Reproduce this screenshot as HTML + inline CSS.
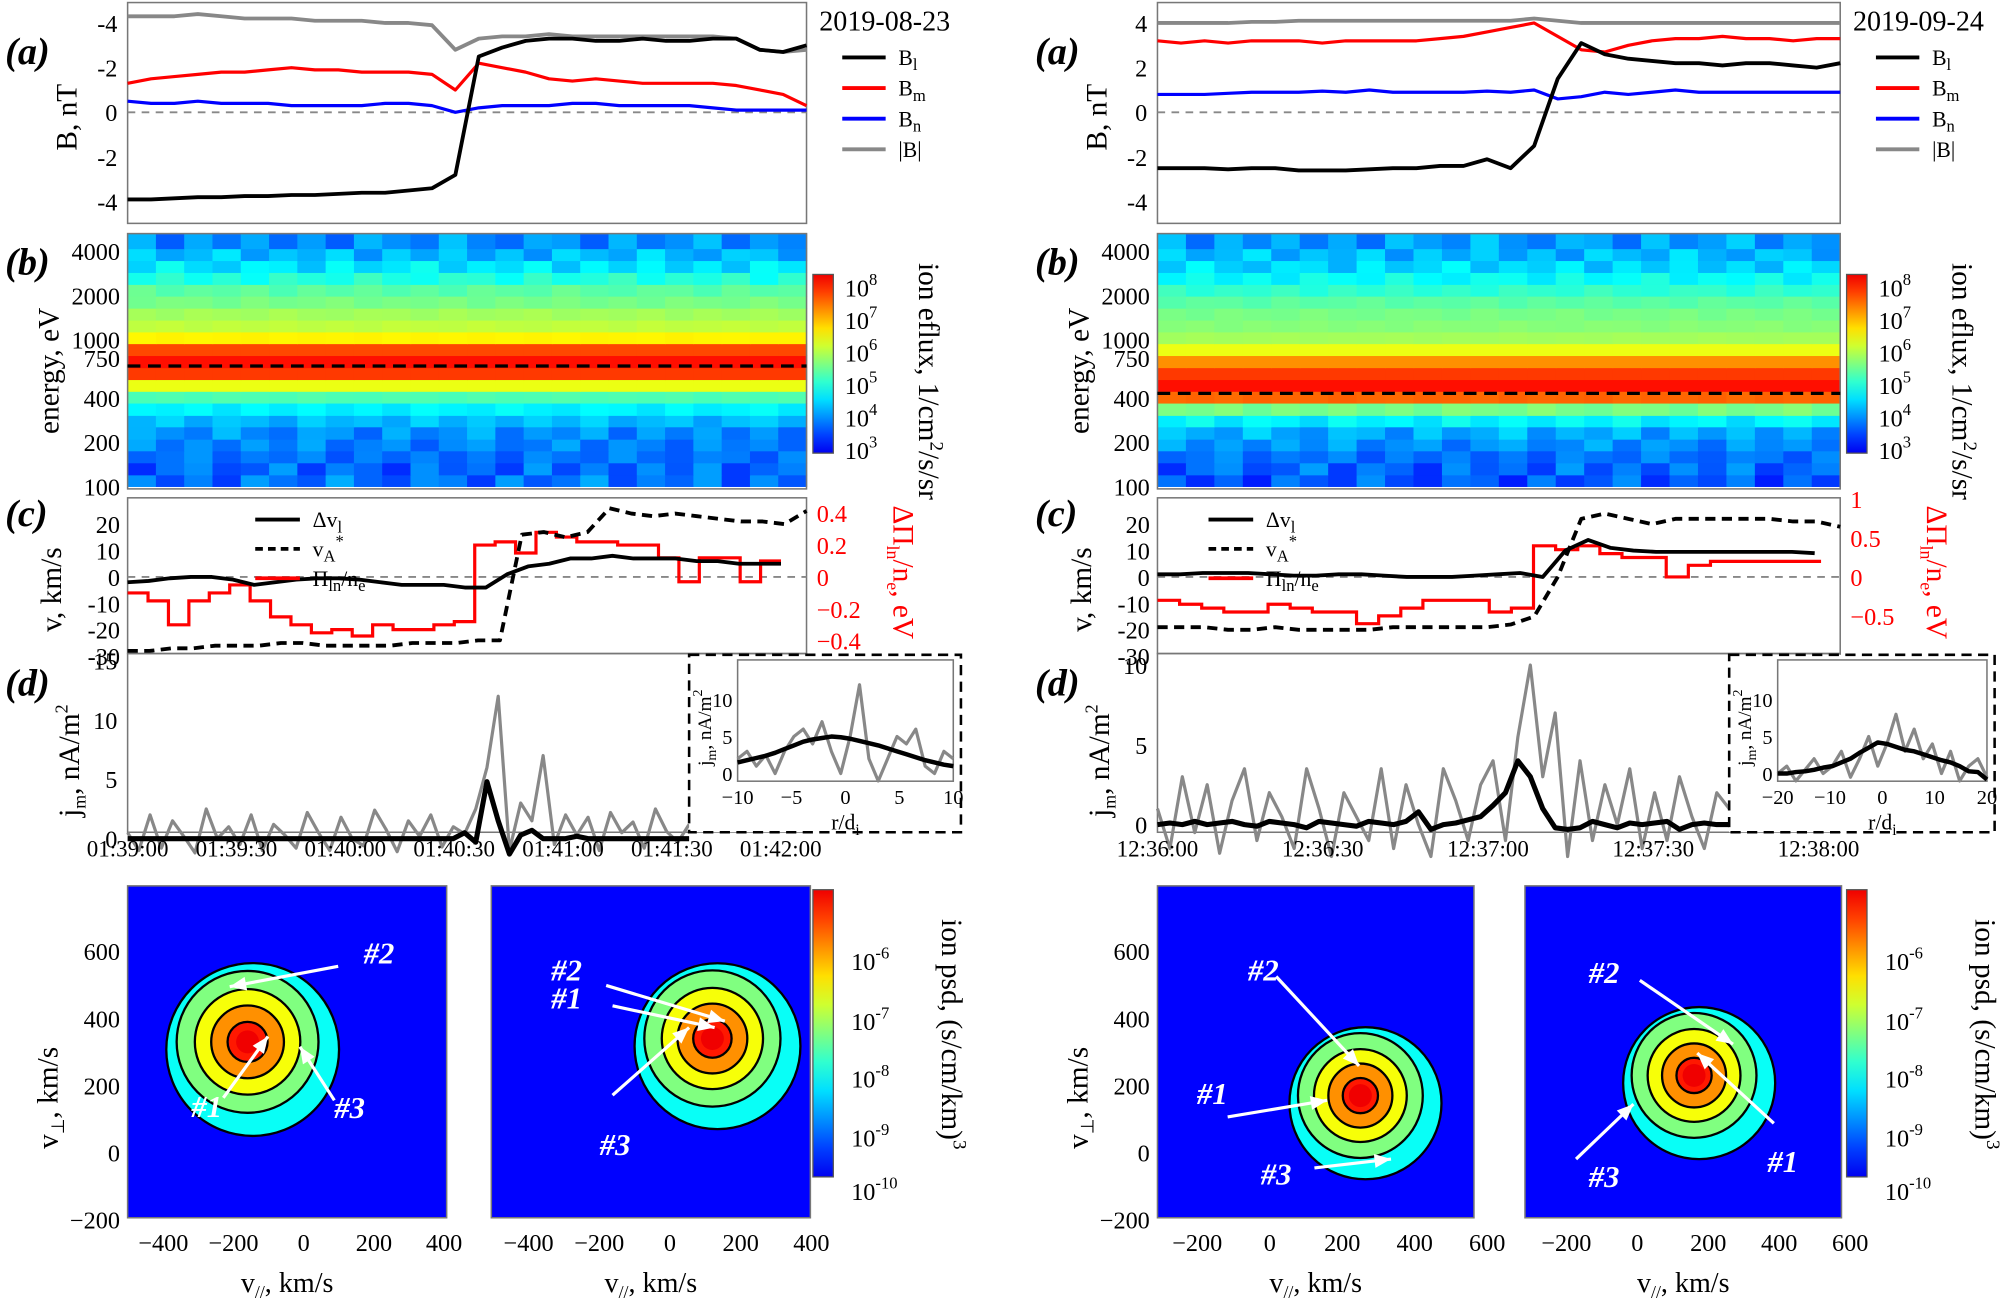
<!DOCTYPE html>
<html><head><meta charset="utf-8"><style>
html,body{margin:0;padding:0;background:#fff}
svg{display:block;font-family:"Liberation Serif",serif}
svg text{font-family:"Liberation Serif",serif}
</style></head><body>
<svg id="fig" font-family="Liberation Serif, serif" width="2001" height="1302" viewBox="0 0 1568 1020" preserveAspectRatio="none" xmlns="http://www.w3.org/2000/svg"></svg>
<script>
// ---------- data ----------
const leftBl=[-3.9,-3.9,-3.85,-3.8,-3.8,-3.75,-3.75,-3.7,-3.7,-3.65,-3.6,-3.6,-3.5,-3.4,-2.8,2.5,2.9,3.2,3.3,3.3,3.2,3.2,3.3,3.2,3.2,3.3,3.3,2.8,2.7,3.0];
const leftBm=[1.3,1.5,1.6,1.7,1.8,1.8,1.9,2.0,1.9,1.9,1.8,1.8,1.8,1.7,1.0,2.2,2.0,1.8,1.5,1.4,1.5,1.4,1.3,1.3,1.3,1.3,1.2,1.0,0.8,0.3];
const leftBn=[0.5,0.4,0.4,0.5,0.4,0.4,0.4,0.3,0.3,0.3,0.3,0.4,0.4,0.3,0.0,0.2,0.3,0.3,0.3,0.4,0.4,0.3,0.3,0.3,0.3,0.2,0.1,0.1,0.1,0.1];
const leftB=[4.3,4.3,4.3,4.4,4.3,4.2,4.2,4.2,4.1,4.1,4.1,4.0,4.0,3.9,2.8,3.3,3.4,3.4,3.5,3.4,3.4,3.4,3.4,3.4,3.4,3.4,3.3,2.8,2.7,2.8];
const rightBl=[-2.5,-2.5,-2.5,-2.55,-2.5,-2.5,-2.6,-2.6,-2.6,-2.55,-2.5,-2.5,-2.4,-2.4,-2.1,-2.5,-1.5,1.5,3.1,2.6,2.4,2.3,2.2,2.2,2.1,2.2,2.2,2.1,2.0,2.2];
const rightBm=[3.2,3.1,3.2,3.1,3.2,3.2,3.2,3.1,3.2,3.2,3.2,3.2,3.3,3.4,3.6,3.8,4.0,3.4,2.8,2.7,3.0,3.2,3.3,3.3,3.4,3.3,3.3,3.2,3.3,3.3];
const rightBn=[0.8,0.8,0.8,0.85,0.9,0.9,0.9,0.95,0.9,1.0,0.9,0.9,0.9,0.9,0.95,0.9,1.0,0.6,0.7,0.9,0.8,0.9,1.0,0.9,0.9,0.9,0.9,0.9,0.9,0.9];
const rightB=[4.0,4.0,4.0,4.0,4.05,4.05,4.1,4.1,4.1,4.1,4.1,4.1,4.1,4.1,4.1,4.1,4.2,4.1,4.0,4.0,4.0,4.0,4.0,4.0,4.0,4.0,4.0,4.0,4.0,4.0];

const energyEdges=[100,120,145,175,210,255,305,370,445,535,645,780,940,1130,1360,1640,1980,2380,2870,3460,4170,5280];
const leftFlux=[3.8,3.7,3.8,3.9,4.0,4.3,4.7,5.3,6.4,7.9,8.2,7.8,6.6,6.1,5.9,5.6,5.4,5.0,4.6,4.3,4.0];
const rightFlux=[3.6,3.7,3.8,4.0,4.2,4.7,5.6,7.6,8.2,7.9,7.3,6.4,5.9,5.7,5.6,5.4,5.1,4.8,4.5,4.3,4.1];
const colNoise=[0.2,-0.3,0.1,-0.4,0.3,0.0,-0.2,0.4,-0.1,-0.3,0.2,0.1,-0.4,0.3,-0.2,0.0,0.4,-0.3,0.1,-0.1,0.3,-0.4,0.2,-0.2];
const rowNoise=[1,-1,0.6,-0.7,0.8,-0.5,0.3,0.1,0,0,0,0,0.05,0.1,0.15,0.2,0.3,0.5,0.7,0.8,0.9];

const leftDv=[-2,-1.5,-0.5,0,0,-1,-3,-2,-1,-0.5,-0.5,-1,-2,-3,-3,-3,-4,-4,1,4,5,7,7,8,7,7,7,6,6,5,5,5];
const leftVa=[-28,-28,-27,-27,-26,-26,-26,-25,-25,-26,-26,-26,-26,-25,-25,-25,-24,-24,16,17,15,17,26,24,23,24,23,22,21,21,20,25];
const leftPi=[-0.1,-0.15,-0.3,-0.15,-0.1,-0.05,-0.15,-0.25,-0.3,-0.35,-0.33,-0.37,-0.3,-0.33,-0.33,-0.3,-0.28,0.2,0.22,0.15,0.28,0.25,0.22,0.22,0.2,0.2,0.12,-0.03,0.12,0.12,-0.03,0.1];
const rightDv=[1,1,1.5,1.5,1.5,1,0.5,0.5,1,1,0.5,0,0,0,0.5,1,1.5,0,10,14,11,10,9.5,9.5,9.5,9.5,9.5,9.5,9.5,9];
const rightVa=[-19,-19,-19,-20,-20,-19,-20,-20,-20,-20,-19,-19,-19,-19,-19,-18,-15,0,22,24,22,20,22,22,22,22,22,21,21,19];
const rightPi=[-0.3,-0.35,-0.4,-0.45,-0.45,-0.35,-0.4,-0.45,-0.45,-0.6,-0.5,-0.4,-0.3,-0.3,-0.3,-0.45,-0.4,0.4,0.35,0.4,0.3,0.25,0.25,0.0,0.15,0.2,0.2,0.2,0.2,0.2];

const leftJ=[0.5,-1,2,-0.8,1.5,0.2,-1.2,2.5,0,1,-0.5,2,-1,1.2,0.3,-0.8,2.2,0.5,-1,1.8,0,-0.6,2.4,0.8,-1.1,1.5,0.2,2,-0.7,1,0.4,2.5,6,12,-1,3,1.5,7,-0.5,2,0.3,1.8,-1,2.2,0.5,1.4,-0.8,2.5,0.6,-0.3,1.2];
const leftJs=[0,0,0,0,0,0,0,0,0,0,0,0,0,0,0,0,0,0,0,0,0,0,0,0,0,0,0,0,0,0,0.5,-0.3,4.8,1.5,-1.3,0.3,0.7,0,0,0,0.2,0,0,0,0,0,0,0,0,0,0];
const rightJ=[1,-1.5,3,-0.5,2.5,-1.8,1.5,3.5,-1,2,0.5,-1.5,3.5,1,-2,2,0.5,-1,3.5,-1.5,2.5,0,-2,3.5,1.5,-1,2.5,4,-1,5.5,10,3,7,-2,4,-1,2.5,0,3.5,-1.5,2,-1,3,0.5,-1.5,2,1];
const rightJs=[0,0.1,0,0.2,0,0.1,0.2,0,-0.1,0.2,0.1,0,-0.2,0.2,0.1,0,-0.1,0.2,0.1,0,0.2,0.8,-0.3,0,0.1,0.3,0.5,1.2,2,4,3,1,-0.2,-0.3,-0.2,0.2,0,-0.2,0.1,0,0.1,0.2,-0.3,0,0.1,0,0];
const insetLg=[2,3,1,2.5,0,3,5,6,4,7,3,0,5,12,2,-1,2,5,4,6,1,0,3,2];
const insetLs=[1.5,1.8,2.1,2.4,2.8,3.3,3.8,4.3,4.6,4.8,5.0,4.9,4.7,4.4,4.1,3.8,3.4,3.0,2.6,2.2,1.8,1.5,1.2,1.0];
const insetRg=[0,1,-1,0.5,2,0,1,3,-0.5,2,5,1,4,8,3,6,2,4,0,3,-1,1,2,-0.5];
const insetRs=[0,0,0.2,0.3,0.5,0.8,1,1.5,2,2.8,3.5,4.2,4,3.6,3.2,3,2.6,2.2,1.8,1.5,1,0.3,0.2,-0.8];
</script>
<script>
const NS="http://www.w3.org/2000/svg";
const S=document.getElementById('fig');
function mk(tag,parent){const e=document.createElementNS(NS,tag);(parent||S).appendChild(e);return e;}
function jet0(t){t=Math.max(0,Math.min(1,t));const c=v=>Math.round(255*Math.max(0,Math.min(1,v)));
 return `rgb(${c(1.5-Math.abs(4*t-3))},${c(1.5-Math.abs(4*t-2))},${c(1.5-Math.abs(4*t-1))})`;}
function jet(t){t=Math.max(0,Math.min(1,t));return jet0(0.11+0.78*t);}
function txt(x,y,s,size,opts){const t=mk('text');t.setAttribute('x',x);t.setAttribute('y',y);t.setAttribute('font-size',size);
 t.setAttribute('font-family','Liberation Serif, serif');
 if(opts&&opts.anchor)t.setAttribute('text-anchor',opts.anchor);if(opts&&opts.fill)t.setAttribute('fill',opts.fill);
 if(opts&&opts.style)t.setAttribute('font-style',opts.style);if(opts&&opts.weight)t.setAttribute('font-weight',opts.weight);
 if(opts&&opts.rot!==undefined)t.setAttribute('transform',`rotate(${opts.rot} ${x} ${y})`);
 t.innerHTML=s;return t;}
function frame(x0,y0,x1,y1,name){const r=mk('rect');r.setAttribute('x',x0);r.setAttribute('y',y0);r.setAttribute('width',x1-x0);r.setAttribute('height',y1-y0);
 r.setAttribute('fill','none');r.setAttribute('stroke','#777');r.setAttribute('stroke-width','1.2');
 return r;}
function line(vals,x0,x1,yf,color,w,dash,name){const n=vals.length;const pts=vals.map((v,i)=>`${x0+i*(x1-x0)/(n-1)},${yf(v)}`).join(' ');
 const p=mk('polyline');p.setAttribute('points',pts);p.setAttribute('fill','none');p.setAttribute('stroke',color);p.setAttribute('stroke-width',w);
 if(dash)p.setAttribute('stroke-dasharray',dash);p.setAttribute('stroke-linejoin','round');
 return p;}
function step(vals,x0,x1,yf,color,w,name){const n=vals.length;const dx=(x1-x0)/n;let pts=[];
 vals.forEach((v,i)=>{pts.push(`${x0+i*dx},${yf(v)}`);pts.push(`${x0+(i+1)*dx},${yf(v)}`);});
 const p=mk('polyline');p.setAttribute('points',pts.join(' '));p.setAttribute('fill','none');p.setAttribute('stroke',color);p.setAttribute('stroke-width',w);
 return p;}
function hline(x0,x1,y,color,dash,w){const l=mk('line');l.setAttribute('x1',x0);l.setAttribute('x2',x1);l.setAttribute('y1',y);l.setAttribute('y2',y);
 l.setAttribute('stroke',color);l.setAttribute('stroke-width',w||1.5);if(dash)l.setAttribute('stroke-dasharray',dash);return l;}

function colorbar(x,y0,y1,name){const g=mk('linearGradient');g.setAttribute('id',name+'-g');g.setAttribute('x1',0);g.setAttribute('x2',0);g.setAttribute('y1',1);g.setAttribute('y2',0);
 for(let i=0;i<=10;i++){const s=mk('stop',g);s.setAttribute('offset',i/10);s.setAttribute('stop-color',jet(i/10));}
 const r=mk('rect');r.setAttribute('x',x);r.setAttribute('y',y0);r.setAttribute('width',16);r.setAttribute('height',y1-y0);r.setAttribute('fill',`url(#${name}-g)`);r.setAttribute('stroke','#555');
 }

function column(side){
 const L=side==='left';
 const x0=L?100:907, x1=L?632:1442;
 const lx=L?0:807;
 const BL=L?leftBl:rightBl,BM=L?leftBm:rightBm,BN=L?leftBn:rightBn,BB=L?leftB:rightB;
 const ya=v=>88-v*17.5;
 frame(x0,2,x1,175,side+'-panel-a-frame');
 hline(x0,x1,ya(0),'#888','6,5');
 line(BB,x0,x1,ya,'#888',3,null,side+'-B-total');
 line(BM,x0,x1,ya,'#f00',2.5,null,side+'-Bm');
 line(BN,x0,x1,ya,'#00f',2.5,null,side+'-Bn');
 line(BL,x0,x1,ya,'#000',3,null,side+'-Bl');
 const tk=L?['-4','-2','0','-2','-4']:['4','2','0','-2','-4'];
 [4,2,0,-2,-4].forEach((v,i)=>txt(x0-8,ya(v)+7,tk[i],19,{anchor:'end'}));
 txt(lx+4,50,'(a)',30,{style:'italic',weight:'bold'});
 txt(lx+60,118,'B, nT',23,{rot:-90});
 txt(x1+10,24,L?'2019-08-23':'2019-09-24',22);
 const lg=[['#000','B<tspan font-size="13" dy="4">l</tspan>'],['#f00','B<tspan font-size="13" dy="4">m</tspan>'],['#00f','B<tspan font-size="13" dy="4">n</tspan>'],['#888','|B|']];
 lg.forEach((e,i)=>{const y=45+i*24;const l=hline(x1+28,x1+62,y,e[0],null,3);txt(x1+72,y+6,e[1],17);});
 const yb=E=>381-115*Math.log10(E/100);
 const FL=L?leftFlux:rightFlux;const nc=colNoise.length;const dx=(x1-x0)/nc;
 for(let r=0;r<FL.length;r++){for(let c=0;c<nc;c++){
  const v=FL[r]+colNoise[(c+r*7)%nc]*rowNoise[r];
  const rc=mk('rect');rc.setAttribute('x',x0+c*dx);rc.setAttribute('width',dx+0.5);
  const yt=Math.max(183,yb(energyEdges[r+1]));rc.setAttribute('y',yt);rc.setAttribute('height',yb(energyEdges[r])-yt+0.5);
  rc.setAttribute('fill',jet((v-2.9)/5.5));
  
  }}
 frame(x0,183,x1,383,side+'-panel-b-frame');
 const eline=hline(x0,x1,yb(L?660:430),'#000','10,6',2.5);
 [[4000],[2000],[1000],[750],[400],[200],[100]].forEach(e=>txt(x0-6,yb(e[0])+7,e[0],19,{anchor:'end'}));
 txt(lx+4,215,'(b)',30,{style:'italic',weight:'bold'});
 txt(lx+46,340,'energy, eV',23,{rot:-90});
 colorbar(x1+5,215,355,side+'-flux-colorbar');
 [3,4,5,6,7,8].forEach(p=>txt(x1+30,355-(p-2.9)/5.5*140+7,`10<tspan dy="-9" font-size="13">${p}</tspan>`,19));
 txt(x1+88,206,'ion eflux, 1/cm<tspan dy="-9" font-size="15">2</tspan><tspan dy="9">/s/sr</tspan>',23,{rot:90});
 const yc=v=>452-v*2.07;
 const yr=L?(v=>452-v*125):(v=>452-v*61);
 frame(x0,390,x1,512,side+'-panel-c-frame');
 hline(x0,x1,yc(0),'#888','6,5');
 step(L?leftPi:rightPi,x0,x1-(L?20:15),yr,'#f00',2.5,side+'-Pi-step');
 line(L?leftVa:rightVa,x0,x1,yc,'#000',3,'8,5',side+'-vA-dashed');
 line(L?leftDv:rightDv,x0,x1-20,yc,'#000',3,null,side+'-dv-line');
 [20,10,0,-10,-20,-30].forEach(v=>txt(x0-6,yc(v)+7,v,19,{anchor:'end'}));
 (L?[0.4,0.2,0,-0.2,-0.4]:[1,0.5,0,-0.5]).forEach(v=>txt(x1+8,yr(v)+7,String(v).replace('-','−'),19,{fill:'#f00'}));
 txt(lx+4,412,'(c)',30,{style:'italic',weight:'bold'});
 txt(lx+48,495,'v, km/s',23,{rot:-90});
 txt(x1+68,396,'ΔΠ<tspan font-size="14" dy="5">ln</tspan><tspan dy="-5">/n</tspan><tspan font-size="14" dy="5">e</tspan><tspan dy="-5">, eV</tspan>',23,{rot:90,fill:'#f00'});
 const lgx=x0+(L?100:40);
 [['#000',null,'Δv<tspan font-size="13" dy="4">l</tspan>'],['#000','6,4','v<tspan font-size="13" dy="4">A</tspan><tspan font-size="13" dy="-12">*</tspan>'],['#f00',null,'Π<tspan font-size="13" dy="4">ln</tspan><tspan dy="-4">/n</tspan><tspan font-size="13" dy="4">e</tspan>']].forEach((e,i)=>{
  const y=407+i*23;const l=hline(lgx,lgx+35,y,e[0],e[1],3);txt(lgx+45,y+6,e[2],17);});
 const yd=L?(v=>657-v*9.3):(v=>646-v*12.5);
 const jx1=L?540:1355;
 frame(x0,512,x1,652,side+'-panel-d-frame');
 line(L?leftJ:rightJ,x0,jx1,yd,'#888',2.5,null,side+'-j-raw');
 line(L?leftJs:rightJs,x0,jx1,yd,'#000',4,null,side+'-j-smooth');
 (L?[15,10,5,0]:[10,5,0]).forEach(v=>txt(x0-8,yd(v)+7,v,19,{anchor:'end'}));
 txt(lx+4,545,'(d)',30,{style:'italic',weight:'bold'});
 txt(lx+62,640,'j<tspan font-size="14" dy="5">m</tspan><tspan dy="-5">, nA/m</tspan><tspan font-size="14" dy="-9">2</tspan>',23,{rot:-90});
 const times=L?['01:39:00','01:39:30','01:40:00','01:40:30','01:41:00','01:41:30','01:42:00']:['12:36:00','12:36:30','12:37:00','12:37:30','12:38:00'];
 const tstep=L?85.3:129.5;
 times.forEach((t,i)=>txt(x0+i*tstep,671,t,18,{anchor:'middle'}));
 const ix0=L?540:1355,ix1=L?755:1565;
 const box=mk('rect');box.setAttribute('x',ix0);box.setAttribute('y',513);box.setAttribute('width',ix1-ix0-2);box.setAttribute('height',139);
 box.setAttribute('fill','#fff');box.setAttribute('stroke','#000');box.setAttribute('stroke-width',2);box.setAttribute('stroke-dasharray','8,5');
 
 const px0=ix0+38,px1=ix1-8;const yi=v=>606-v*5.8;
 frame(px0,517,px1,612,side+'-inset-frame');
 line(L?insetLg:insetRg,px0,px1,yi,'#888',2.5,null,side+'-inset-raw');
 line(L?insetLs:insetRs,px0,px1,yi,'#000',3.5,null,side+'-inset-smooth');
 [10,5,0].forEach(v=>txt(px0-4,yi(v)+6,v,16,{anchor:'end'}));
 const it=L?['−10','−5','0','5','10']:['−20','−10','0','10','20'];
 it.forEach((t,i)=>txt(px0+i*(px1-px0)/4,630,t,16,{anchor:'middle'}));
 txt(px0+(px1-px0)/2,650,'r/d<tspan font-size="12" dy="4">i</tspan>',17,{anchor:'middle'});
 txt(ix0+17,600,'j<tspan font-size="11" dy="4">m</tspan><tspan dy="-4">, nA/m</tspan><tspan font-size="11" dy="-7">2</tspan>',15,{rot:-90});
}
column('left');column('right');

// ---------- contour plots ----------
const contourCenters=[[-160,330],[120,340],[250,170],[160,230]];
const contourScale=[0.75,0.72,0.66,0.66];
const contourLevels=[0.35,0.5,0.65,0.8,0.95];
const plots=[{x0:100,x1:350,ox:238,sx:0.275,ticks:[-400,-200,0,200,400]},{x0:385,x1:635,ox:525,sx:0.277,ticks:[-400,-200,0,200,400]},
 {x0:907,x1:1155,ox:995,sx:0.284,ticks:[-200,0,200,400,600]},{x0:1195,x1:1443,ox:1283,sx:0.278,ticks:[-200,0,200,400,600]}];
const yv=v=>903-v*0.263;
plots.forEach((p,k)=>{
 const bg=mk('rect');bg.setAttribute('x',p.x0);bg.setAttribute('y',694);bg.setAttribute('width',p.x1-p.x0);bg.setAttribute('height',260);bg.setAttribute('fill',jet(0.02));
 
 const cx=p.ox+contourCenters[k][0]*p.sx, cy=yv(contourCenters[k][1]);
 const R=[95,78,58,40,22].map(r=>r*contourScale[k]);
 contourLevels.forEach((lv,i)=>{const e=mk('ellipse');e.setAttribute('cx',cx+(i===0?4:0));e.setAttribute('cy',cy+(i===0?6:0));
  e.setAttribute('rx',R[i]*0.95);e.setAttribute('ry',R[i]*0.95);e.setAttribute('fill',jet(lv));e.setAttribute('stroke','#000');e.setAttribute('stroke-width',1.8);
  });
 const core=mk('ellipse');core.setAttribute('cx',cx);core.setAttribute('cy',cy);core.setAttribute('rx',9);core.setAttribute('ry',9);core.setAttribute('fill',jet(1));
 
 frame(p.x0,694,p.x1,954,'vdf-frame-'+k);
 p.ticks.forEach(t=>txt(p.ox+t*p.sx,980,String(t).replace('-','−'),19,{anchor:'middle'}));
 txt((p.x0+p.x1)/2,1012,'v<tspan font-size="14" dy="5">//</tspan><tspan dy="-5">, km/s</tspan>',22,{anchor:'middle'});
 if(k===0||k===2){[600,400,200,0,-200].forEach(v=>txt(p.x0-6,yv(v)+7,String(v).replace('-','−'),19,{anchor:'end'}));
  txt(p.x0-55,900,'v<tspan font-size="14" dy="5">⊥</tspan><tspan dy="-5">, km/s</tspan>',23,{rot:-90});}
});
colorbar(637,697,922,'left-psd-colorbar');colorbar(1447,697,922,'right-psd-colorbar');
[[-6,770],[-7,817],[-8,862],[-9,908],[-10,950]].forEach(a=>{[[655],[1465]].forEach(x=>txt(x[0]+12,a[1]-10,`10<tspan dy="-9" font-size="13">${a[0]}</tspan>`,19));});
txt(738,720,'ion psd, (s/cm/km)<tspan dy="-9" font-size="15">3</tspan>',23,{rot:90});
txt(1548,720,'ion psd, (s/cm/km)<tspan dy="-9" font-size="15">3</tspan>',23,{rot:90});

const arrows=[[265,757,180,773,'#2',285,755],[175,860,210,812,'#1',150,875],[262,862,235,820,'#3',262,876],
 [475,772,568,800,'#2',432,768],[480,858,540,805,'#3',470,905],[480,788,560,805,'#1',432,790],
 [1000,765,1065,835,'#2',978,768],[962,875,1040,862,'#1',938,865],[1030,915,1090,908,'#3',988,928],
 [1285,768,1358,818,'#2',1245,770],[1235,908,1280,865,'#3',1245,930],[1390,880,1330,825,'#1',1385,918]];
arrows.forEach((a,i)=>{const l=mk('line');l.setAttribute('x1',a[0]);l.setAttribute('y1',a[1]);l.setAttribute('x2',a[2]);l.setAttribute('y2',a[3]);
 l.setAttribute('stroke','#fff');l.setAttribute('stroke-width',2.5);
 
 const ang=Math.atan2(a[3]-a[1],a[2]-a[0]);const h=mk('polygon');
 const p1=[a[2]-14*Math.cos(ang-0.4),a[3]-14*Math.sin(ang-0.4)],p2=[a[2]-14*Math.cos(ang+0.4),a[3]-14*Math.sin(ang+0.4)];
 h.setAttribute('points',`${a[2]},${a[3]} ${p1} ${p2}`);h.setAttribute('fill','#fff');
 txt(a[5],a[6],a[4],24,{fill:'#fff',style:'italic',weight:'bold'});});
</script>
</body></html>
